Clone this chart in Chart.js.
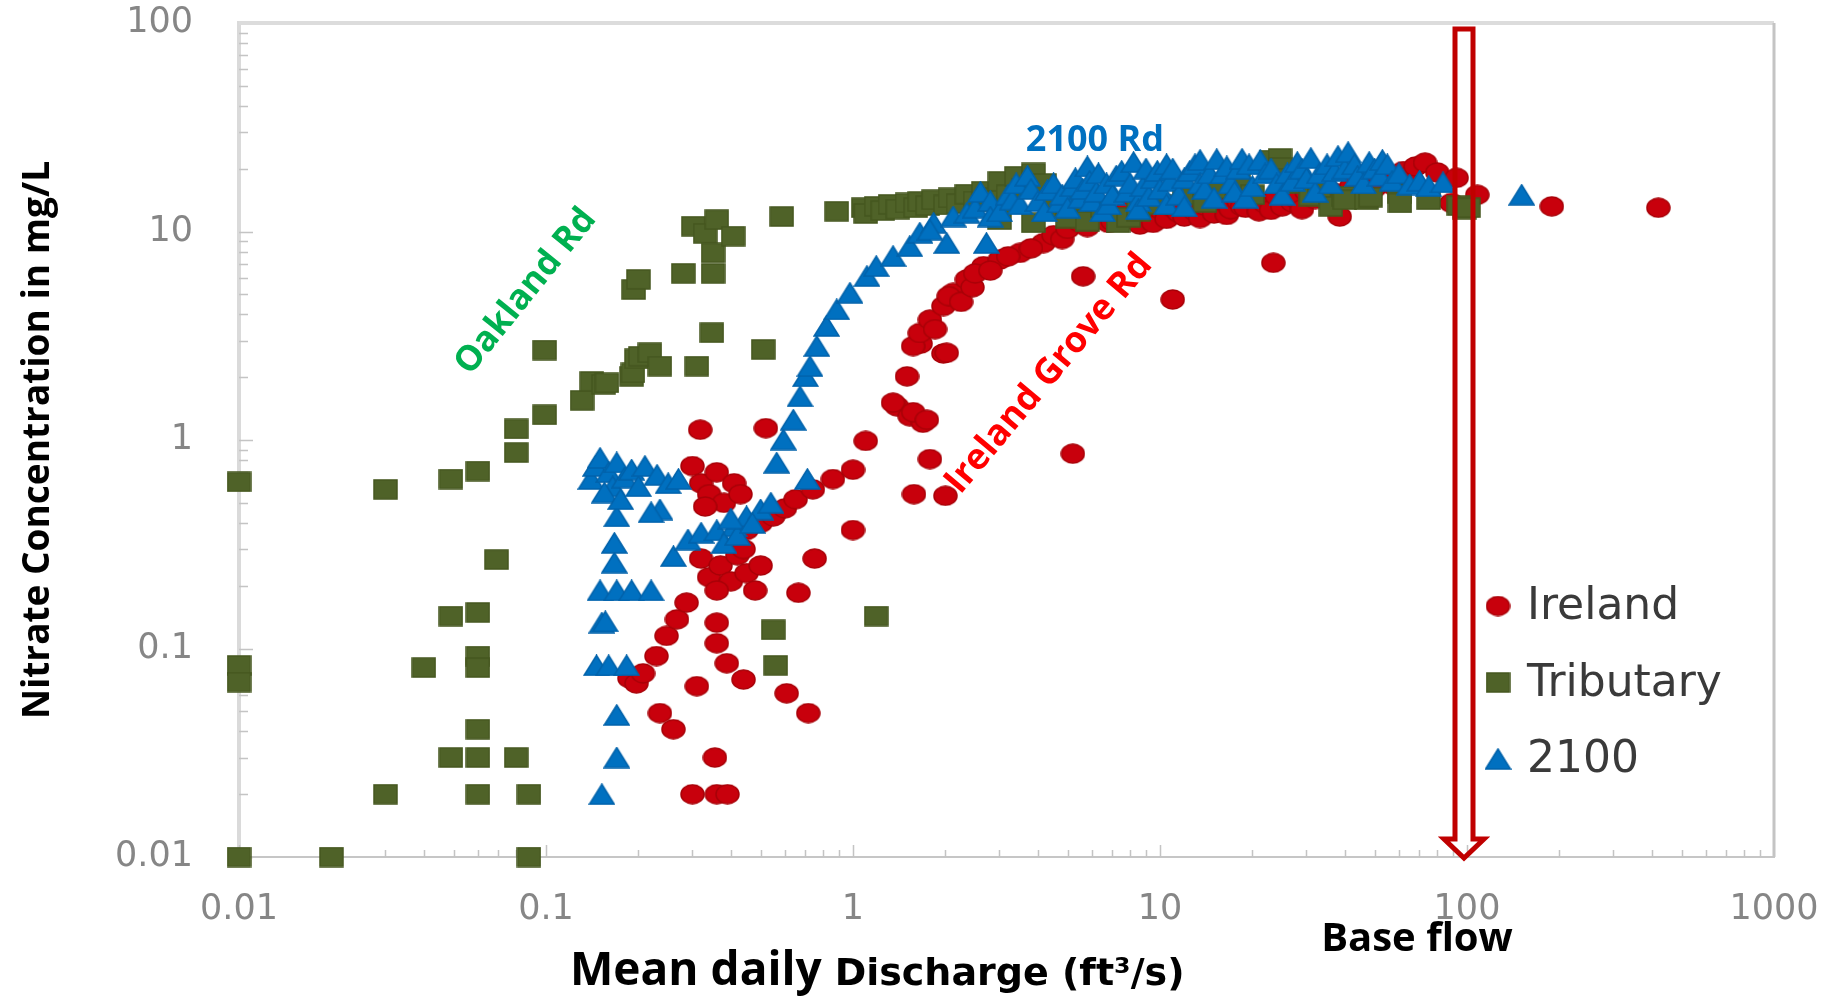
<!DOCTYPE html>
<html>
<head>
<meta charset="utf-8">
<title>Nitrate concentration vs mean daily discharge</title>
<script src="https://cdn.jsdelivr.net/npm/chart.js@4.4.0/dist/chart.umd.min.js"></script>
<style>
  html, body { margin: 0; padding: 0; background: #fff; }
  #wrap { width: 1845px; height: 996px; }
</style>
</head>
<body>
<div id="wrap"><canvas id="nitrateChart" width="1845" height="996"></canvas></div>
<script>
// Axis ticks (log decades)
const xTickValues = [0.01, 0.1, 1, 10, 100, 1000];
const xTickLabels = ['0.01', '0.1', '1', '10', '100', '1000'];
const yTickValues = [0.01, 0.1, 1, 10, 100];
const yTickLabels = ['0.01', '0.1', '1', '10', '100'];

// Ireland Grove Rd site: [discharge ft3/s, nitrate mg/L]
const ireland = [
  [0.187, 0.072], [0.197, 0.068], [0.207, 0.076], [0.229, 0.092], [0.247, 0.115], [0.267, 0.138], [0.287, 0.166],
  [0.235, 0.049], [0.26, 0.041], [0.31, 0.066], [0.355, 0.03],
  [0.30, 0.02], [0.36, 0.02], [0.39, 0.02],
  [0.36, 0.133], [0.36, 0.106], [0.388, 0.085], [0.44, 0.071],
  [0.608, 0.061], [0.715, 0.049],
  [0.32, 0.27], [0.34, 0.22], [0.37, 0.25], [0.40, 0.21], [0.42, 0.28], [0.45, 0.23], [0.48, 0.19], [0.50, 0.25], [0.36, 0.19], [0.44, 0.30],
  [0.664, 0.185], [0.75, 0.27], [1.0, 0.37],
  [0.45, 0.37], [0.50, 0.40], [0.55, 0.43], [0.60, 0.47], [0.65, 0.52], [0.74, 0.58], [0.86, 0.65], [1.0, 0.72],
  [0.30, 0.75], [0.32, 0.62], [0.34, 0.55], [0.36, 0.70], [0.38, 0.50], [0.41, 0.62], [0.43, 0.55], [0.33, 0.48],
  [0.318, 1.12], [0.52, 1.14],
  [1.10, 0.99], [1.50, 2.02], [1.39, 1.45], [1.53, 1.30], [1.69, 1.21], [1.78, 0.81], [1.58, 0.55], [2.0, 0.54],
  [1.66, 2.9], [1.97, 2.6], [1.35, 1.51], [1.57, 1.36], [1.74, 1.25],
  [1.57, 2.82], [1.65, 3.26], [1.78, 3.78], [1.97, 4.39], [2.12, 5.08], [2.35, 5.89], [2.66, 6.82], [3.01, 7.34], [3.5, 7.9], [4.17, 8.8], [2.02, 2.62],
  [1.85, 3.4], [2.05, 4.9], [2.25, 4.6], [2.45, 5.4], [2.5, 6.3], [2.8, 6.5], [3.2, 7.6], [3.8, 8.3],
  [5.2, 0.86], [5.62, 6.1], [11.0, 4.72], [23.4, 7.08], [38.5, 11.8],
  [4.5, 9.6], [4.8, 9.2], [5.0, 10.3], [5.5, 11.0], [5.8, 10.5], [6.0, 11.4], [6.5, 11.8], [6.8, 11.0], [7.0, 11.2], [7.5, 12.0],
  [7.8, 12.6], [8.0, 11.5], [8.6, 10.8], [9.0, 12.4], [9.3, 12.0], [9.5, 11.0], [10, 12.8], [10.5, 11.5], [11, 13.0], [11.5, 12.3],
  [12, 11.8], [12.5, 13.5], [13, 12.5], [13.5, 11.6], [14, 13.3], [15, 12.2], [16, 13.8], [16.5, 12.0], [17, 12.8], [18, 14.0],
  [18.5, 13.2], [19, 13.0], [20, 14.5], [21, 12.5], [22, 13.6], [23, 12.7], [24, 14.8], [25, 13.2], [26, 15.0], [27, 13.8],
  [28, 14.2], [29, 12.8], [30, 15.5], [32, 14.3], [33, 15.2], [35, 16.0], [36, 14.0], [38, 15.2], [40, 14.8], [42, 16.5],
  [44, 15.5], [46, 17.3], [48, 16.8], [50, 16.2], [52, 17.5], [55, 18.0], [58, 16.5], [60, 17.0], [62, 19.5], [65, 18.5],
  [68, 20.5], [73, 21.4], [80, 19.2], [89, 13.7], [92.5, 18.1], [108, 15.0], [189, 13.2], [420, 13.0]
];

// Oakland Rd tributary
const tributary = [
  [0.01, 0.63], [0.01, 0.083], [0.01, 0.069], [0.01, 0.01], [0.02, 0.01],
  [0.03, 0.58], [0.03, 0.02], [0.04, 0.081],
  [0.049, 0.65], [0.049, 0.143], [0.049, 0.03],
  [0.06, 0.71], [0.06, 0.149], [0.06, 0.092], [0.06, 0.081], [0.06, 0.041], [0.06, 0.03], [0.06, 0.02],
  [0.069, 0.267], [0.08, 0.87], [0.08, 1.13], [0.08, 0.03], [0.088, 0.02], [0.088, 0.01],
  [0.099, 1.32], [0.099, 2.7],
  [0.131, 1.55], [0.141, 1.91], [0.154, 1.85], [0.158, 1.88], [0.19, 2.02], [0.192, 2.1], [0.197, 2.45], [0.203, 2.52],
  [0.218, 2.62], [0.235, 2.26], [0.31, 2.26], [0.347, 3.27], [0.51, 2.72],
  [0.193, 5.27], [0.2, 5.89],
  [0.28, 6.3], [0.302, 10.6], [0.33, 9.8], [0.35, 6.3], [0.35, 7.9], [0.36, 11.4], [0.407, 9.5],
  [0.55, 0.123], [0.56, 0.083], [1.19, 0.143],
  [0.586, 11.8], [0.885, 12.5],
  [1.08, 13.0], [1.1, 12.2], [1.19, 13.2], [1.25, 12.6], [1.32, 13.5], [1.4, 12.8], [1.5, 13.7], [1.6, 13.0], [1.65, 13.9],
  [1.75, 13.3], [1.83, 14.2], [2.0, 13.4], [2.07, 14.5], [2.2, 13.6], [2.35, 15.1], [2.5, 14.0], [2.66, 15.6], [2.8, 14.5],
  [3.01, 17.4], [3.2, 15.0], [3.41, 18.4], [3.6, 16.0], [3.87, 19.1], [4.2, 17.0], [3.0, 11.4], [3.87, 11.0], [4.5, 13.0],
  [5.0, 11.6], [5.5, 14.0], [5.8, 11.2], [6.5, 13.0], [7.3, 11.0], [7.9, 11.7], [8.5, 12.5], [10, 13.5],
  [12, 15.0], [14, 13.8], [15, 16.0], [18, 17.0], [20, 15.0], [23, 22.0], [24.6, 22.4], [24.6, 20.3], [26, 18.0], [28, 17.0],
  [31, 14.8], [33, 15.5], [36, 13.2],
  [39.5, 14.8], [40, 14.2], [47, 14.2], [48.5, 14.6], [60.5, 15.2], [60.5, 13.7], [75, 14.2], [94, 13.3], [98, 12.8], [101, 13.0]
];

// 2100 Rd site
const site2100 = [
  [0.152, 0.02], [0.17, 0.03], [0.17, 0.048], [0.146, 0.083], [0.16, 0.083], [0.183, 0.083],
  [0.152, 0.133], [0.156, 0.135], [0.15, 0.19], [0.17, 0.19], [0.19, 0.19], [0.22, 0.19],
  [0.167, 0.258], [0.167, 0.321], [0.17, 0.43], [0.235, 0.464], [0.22, 0.45],
  [0.14, 0.65], [0.145, 0.75], [0.15, 0.82], [0.16, 0.70], [0.165, 0.60], [0.17, 0.78], [0.18, 0.66], [0.19, 0.72],
  [0.20, 0.60], [0.21, 0.75], [0.23, 0.68], [0.25, 0.62], [0.27, 0.65], [0.155, 0.56], [0.175, 0.52],
  [0.26, 0.277], [0.29, 0.333], [0.32, 0.359], [0.36, 0.369], [0.41, 0.386], [0.45, 0.43], [0.50, 0.464], [0.54, 0.50],
  [0.38, 0.32], [0.42, 0.35], [0.40, 0.42], [0.47, 0.40],
  [0.71, 0.65],
  [0.564, 0.778], [0.593, 1.005], [0.639, 1.25], [0.672, 1.62], [0.70, 2.02], [0.724, 2.26], [0.762, 2.82], [0.82, 3.52],
  [0.885, 4.23], [0.977, 5.08], [1.11, 6.11], [1.19, 6.82], [1.35, 7.62], [1.53, 8.5], [1.65, 9.86], [1.83, 11.0],
  [2.12, 11.8], [2.35, 12.3],
  [2.02, 8.8], [2.72, 8.8], [1.78, 10.2],
  [2.5, 13], [2.6, 15.5], [2.8, 14], [2.8, 11.8], [3.0, 12.5], [3.2, 15], [3.3, 14.2], [3.4, 17], [3.5, 13.5], [3.7, 18.5],
  [3.8, 16], [4.0, 14], [4.2, 12.5], [4.3, 15.8], [4.5, 17], [4.7, 13.8], [4.8, 15], [5.0, 13], [5.2, 16.5], [5.3, 18],
  [5.5, 14.5], [5.6, 16], [5.8, 20.5], [5.9, 17.5], [6.0, 14], [6.2, 15.5], [6.3, 19], [6.5, 12.5], [6.7, 17], [6.8, 13.5],
  [7.0, 15], [7.2, 18.5], [7.5, 19.5], [7.8, 15.5], [8.0, 17], [8.2, 21.5], [8.5, 14], [8.5, 12.8], [8.8, 16.5], [9.0, 20],
  [9.2, 14.8], [9.5, 18], [9.8, 19.5], [10, 16], [10.5, 13.5], [10.5, 21], [10.8, 17.5], [11, 20], [11.5, 15], [12, 18],
  [12, 13.2], [12.5, 19.5], [13, 21], [13.5, 22], [13.5, 17], [14, 16], [14.5, 19], [15, 14.5], [15.3, 22.2], [16, 19],
  [16.5, 20.5], [17, 17], [17.5, 15.5], [18, 20], [18.5, 22.3], [19, 14.5], [19.5, 21], [20, 16.5], [21.2, 22], [22, 19],
  [23, 20], [24, 17], [25, 15], [26, 19], [27, 17.5], [28, 21.5], [29, 20], [30, 18], [31, 22.5], [32, 15.5],
  [33, 19], [35, 21], [36, 17], [37, 19.5], [38, 23], [40, 20], [41, 24], [43, 21], [44, 18.5], [46, 17],
  [48, 21.5], [50, 20], [52, 18.5], [53, 22], [55, 21], [57, 17.5], [60, 19], [65, 16.8], [70, 17.5], [75, 16.5],
  [83.5, 17.2], [150.7, 15]
];

function toPoints(pairs) {
  return pairs.map(p => ({ x: p[0], y: p[1] }));
}

// Marker images (the original markers are slightly wider than tall)
function makeMarker(shape, w, h, fill, edge) {
  const c = document.createElement('canvas');
  c.width = w;
  c.height = h;
  const g = c.getContext('2d');
  g.fillStyle = fill;
  g.strokeStyle = edge;
  g.lineWidth = 1.5;
  g.beginPath();
  if (shape === 'circle') {
    g.ellipse(w / 2, h / 2, w / 2 - 1, h / 2 - 1, 0, 0, Math.PI * 2);
  } else if (shape === 'square') {
    g.rect(1, 1, w - 2, h - 2);
  } else {
    g.moveTo(w / 2, 1);
    g.lineTo(w - 1, h - 1);
    g.lineTo(1, h - 1);
    g.closePath();
  }
  g.fill();
  g.stroke();
  return c;
}

const redDot = makeMarker('circle', 25, 21, '#c8000c', '#a80008');
const greenSquare = makeMarker('square', 25, 21, '#4f6228', '#45571f');
const blueTriangle = makeMarker('triangle', 27, 22, '#0070c0', '#0062aa');

const tickColor = '#868686';

// Frame, minor ticks
const chartFrame = {
  id: 'chartFrame',
  beforeDatasetsDraw(chart) {
    const { ctx, chartArea: a, scales: { x, y } } = chart;
    ctx.save();
    ctx.strokeStyle = '#dcdcdc';
    ctx.lineWidth = 4;
    ctx.beginPath();
    ctx.moveTo(a.left, a.top);
    ctx.lineTo(a.right, a.top);
    ctx.stroke();
    ctx.strokeStyle = '#c4c4c4';
    ctx.lineWidth = 3;
    ctx.beginPath();
    ctx.moveTo(a.right, a.top);
    ctx.lineTo(a.right, a.bottom);
    ctx.stroke();

    ctx.strokeStyle = '#c4c4c4';
    ctx.lineWidth = 1.5;
    ctx.beginPath();
    for (let d = -2; d <= 2; d++) {
      for (let m = 1; m < 10; m++) {
        const px = Math.round(x.getPixelForValue(m * Math.pow(10, d))) + 0.5;
        const len = m === 1 ? 12 : 7;
        ctx.moveTo(px, a.bottom);
        ctx.lineTo(px, a.bottom - len);
      }
    }
    for (let d = -2; d <= 1; d++) {
      for (let m = 1; m < 10; m++) {
        const py = Math.round(y.getPixelForValue(m * Math.pow(10, d))) + 0.5;
        const len = m === 1 ? 14 : 9;
        ctx.moveTo(a.left, py);
        ctx.lineTo(a.left + len, py);
      }
    }
    ctx.stroke();
    ctx.restore();
  }
};

// Site labels, base flow arrow, legend and x axis title
const chartNotes = {
  id: 'chartNotes',
  afterDatasetsDraw(chart) {
    const { ctx, chartArea: a, scales: { x, y } } = chart;
    ctx.save();

    function rotatedText(text, vx, vy, angle, color, size) {
      ctx.save();
      ctx.translate(x.getPixelForValue(vx), y.getPixelForValue(vy));
      ctx.rotate(angle * Math.PI / 180);
      ctx.font = 'bold ' + size + 'px "Open Sans"';
      ctx.fillStyle = color;
      ctx.textAlign = 'center';
      ctx.textBaseline = 'middle';
      ctx.fillText(text, 0, 0);
      ctx.restore();
    }
    rotatedText('Oakland Rd', 0.086, 5.15, -51, '#00b050', 35);
    rotatedText('Ireland Grove Rd', 4.35, 2.08, -50, '#ff0000', 36);

    ctx.font = 'bold 36px "Open Sans"';
    ctx.fillStyle = '#0070c0';
    ctx.textAlign = 'center';
    ctx.textBaseline = 'alphabetic';
    ctx.fillText('2100 Rd', x.getPixelForValue(6.14), y.getPixelForValue(24.2));

    // hollow arrow at 100 ft3/s
    const cx = x.getPixelForValue(100) - 3;
    const top = a.top + 6;
    const headBase = a.bottom - 18;
    const tip = a.bottom + 1;
    ctx.strokeStyle = '#c00000';
    ctx.lineWidth = 5;
    ctx.lineJoin = 'miter';
    ctx.beginPath();
    ctx.moveTo(cx - 9, top);
    ctx.lineTo(cx - 9, headBase);
    ctx.lineTo(cx - 20, headBase);
    ctx.lineTo(cx, tip);
    ctx.lineTo(cx + 20, headBase);
    ctx.lineTo(cx + 9, headBase);
    ctx.lineTo(cx + 9, top);
    ctx.closePath();
    ctx.stroke();

    ctx.font = 'bold 40px "Open Sans"';
    ctx.fillStyle = '#000';
    ctx.textAlign = 'center';
    ctx.fillText('Base flow', cx - 47, a.bottom + 94);

    // legend
    const entries = [
      { label: 'Ireland', marker: redDot },
      { label: 'Tributary', marker: greenSquare },
      { label: '2100', marker: blueTriangle }
    ];
    ctx.font = '44px "DejaVu Sans"';
    ctx.fillStyle = '#3a3a3a';
    ctx.textAlign = 'left';
    ctx.textBaseline = 'middle';
    entries.forEach((e, i) => {
      const ly = a.bottom - 251 + i * 76.5;
      const mx = a.right - 276;
      ctx.drawImage(e.marker, mx - e.marker.width / 2, ly - e.marker.height / 2);
      ctx.fillText(e.label, a.right - 247, ly + 2);
    });

    // x axis title, two sizes as in the original
    ctx.fillStyle = '#000';
    ctx.textBaseline = 'alphabetic';
    ctx.textAlign = 'left';
    ctx.font = 'bold 46px "Open Sans"';
    const x0 = a.left + 331;
    const base = a.bottom + 128;
    ctx.fillText('Mean daily', x0, base);
    const w = ctx.measureText('Mean daily').width;
    ctx.font = 'bold 38px "DejaVu Sans"';
    ctx.fillText('Discharge (ft\u00b3/s)', x0 + w + 13, base);

    ctx.restore();
  }
};

const ctx = document.getElementById('nitrateChart').getContext('2d');

const nitrateChart = new Chart(ctx, {
  type: 'scatter',
  data: {
    datasets: [
      { label: 'Ireland', data: toPoints(ireland), pointStyle: redDot, pointRadius: 10, order: 3, clip: false },
      { label: 'Tributary', data: toPoints(tributary), pointStyle: greenSquare, pointRadius: 10, order: 2, clip: false },
      { label: '2100', data: toPoints(site2100), pointStyle: blueTriangle, pointRadius: 10, order: 1, clip: false }
    ]
  },
  options: {
    responsive: false,
    animation: false,
    devicePixelRatio: 1,
    events: [],
    layout: { padding: { left: 0, top: 23, right: 71, bottom: 0 } },
    plugins: {
      legend: { display: false },
      tooltip: { enabled: false }
    },
    scales: {
      x: {
        type: 'logarithmic',
        min: 0.01,
        max: 1000,
        afterFit: function(scale) {
          scale.height = 139;
          scale.paddingLeft = 0;
          scale.paddingRight = 0;
        },
        afterBuildTicks: function(scale) { scale.ticks = xTickValues.map(v => ({ value: v })); },
        ticks: {
          autoSkip: false,
          maxRotation: 0,
          padding: 32,
          color: tickColor,
          font: { family: 'DejaVu Sans', size: 35 },
          callback: (value, index) => xTickLabels[index]
        },
        grid: { display: false, drawTicks: false },
        border: { display: true, color: '#c6c6c6', width: 2 }
      },
      y: {
        type: 'logarithmic',
        min: 0.01,
        max: 100,
        afterFit: function(scale) {
          scale.width = 239;
          scale.paddingTop = 0;
          scale.paddingBottom = 0;
        },
        afterBuildTicks: function(scale) { scale.ticks = yTickValues.map(v => ({ value: v })); },
        ticks: {
          autoSkip: false,
          padding: 46,
          color: tickColor,
          font: { family: 'DejaVu Sans', size: 35 },
          callback: (value, index) => yTickLabels[index]
        },
        grid: { display: false, drawTicks: false },
        border: { display: true, color: '#dadada', width: 4 },
        title: {
          display: true,
          text: 'Nitrate Concentration in mg/L',
          color: '#000',
          font: { family: 'Open Sans', weight: 'bold', size: 37 },
          padding: { top: 16, bottom: 0 }
        }
      }
    }
  },
  plugins: [chartFrame, chartNotes]
});
</script>
</body>
</html>
